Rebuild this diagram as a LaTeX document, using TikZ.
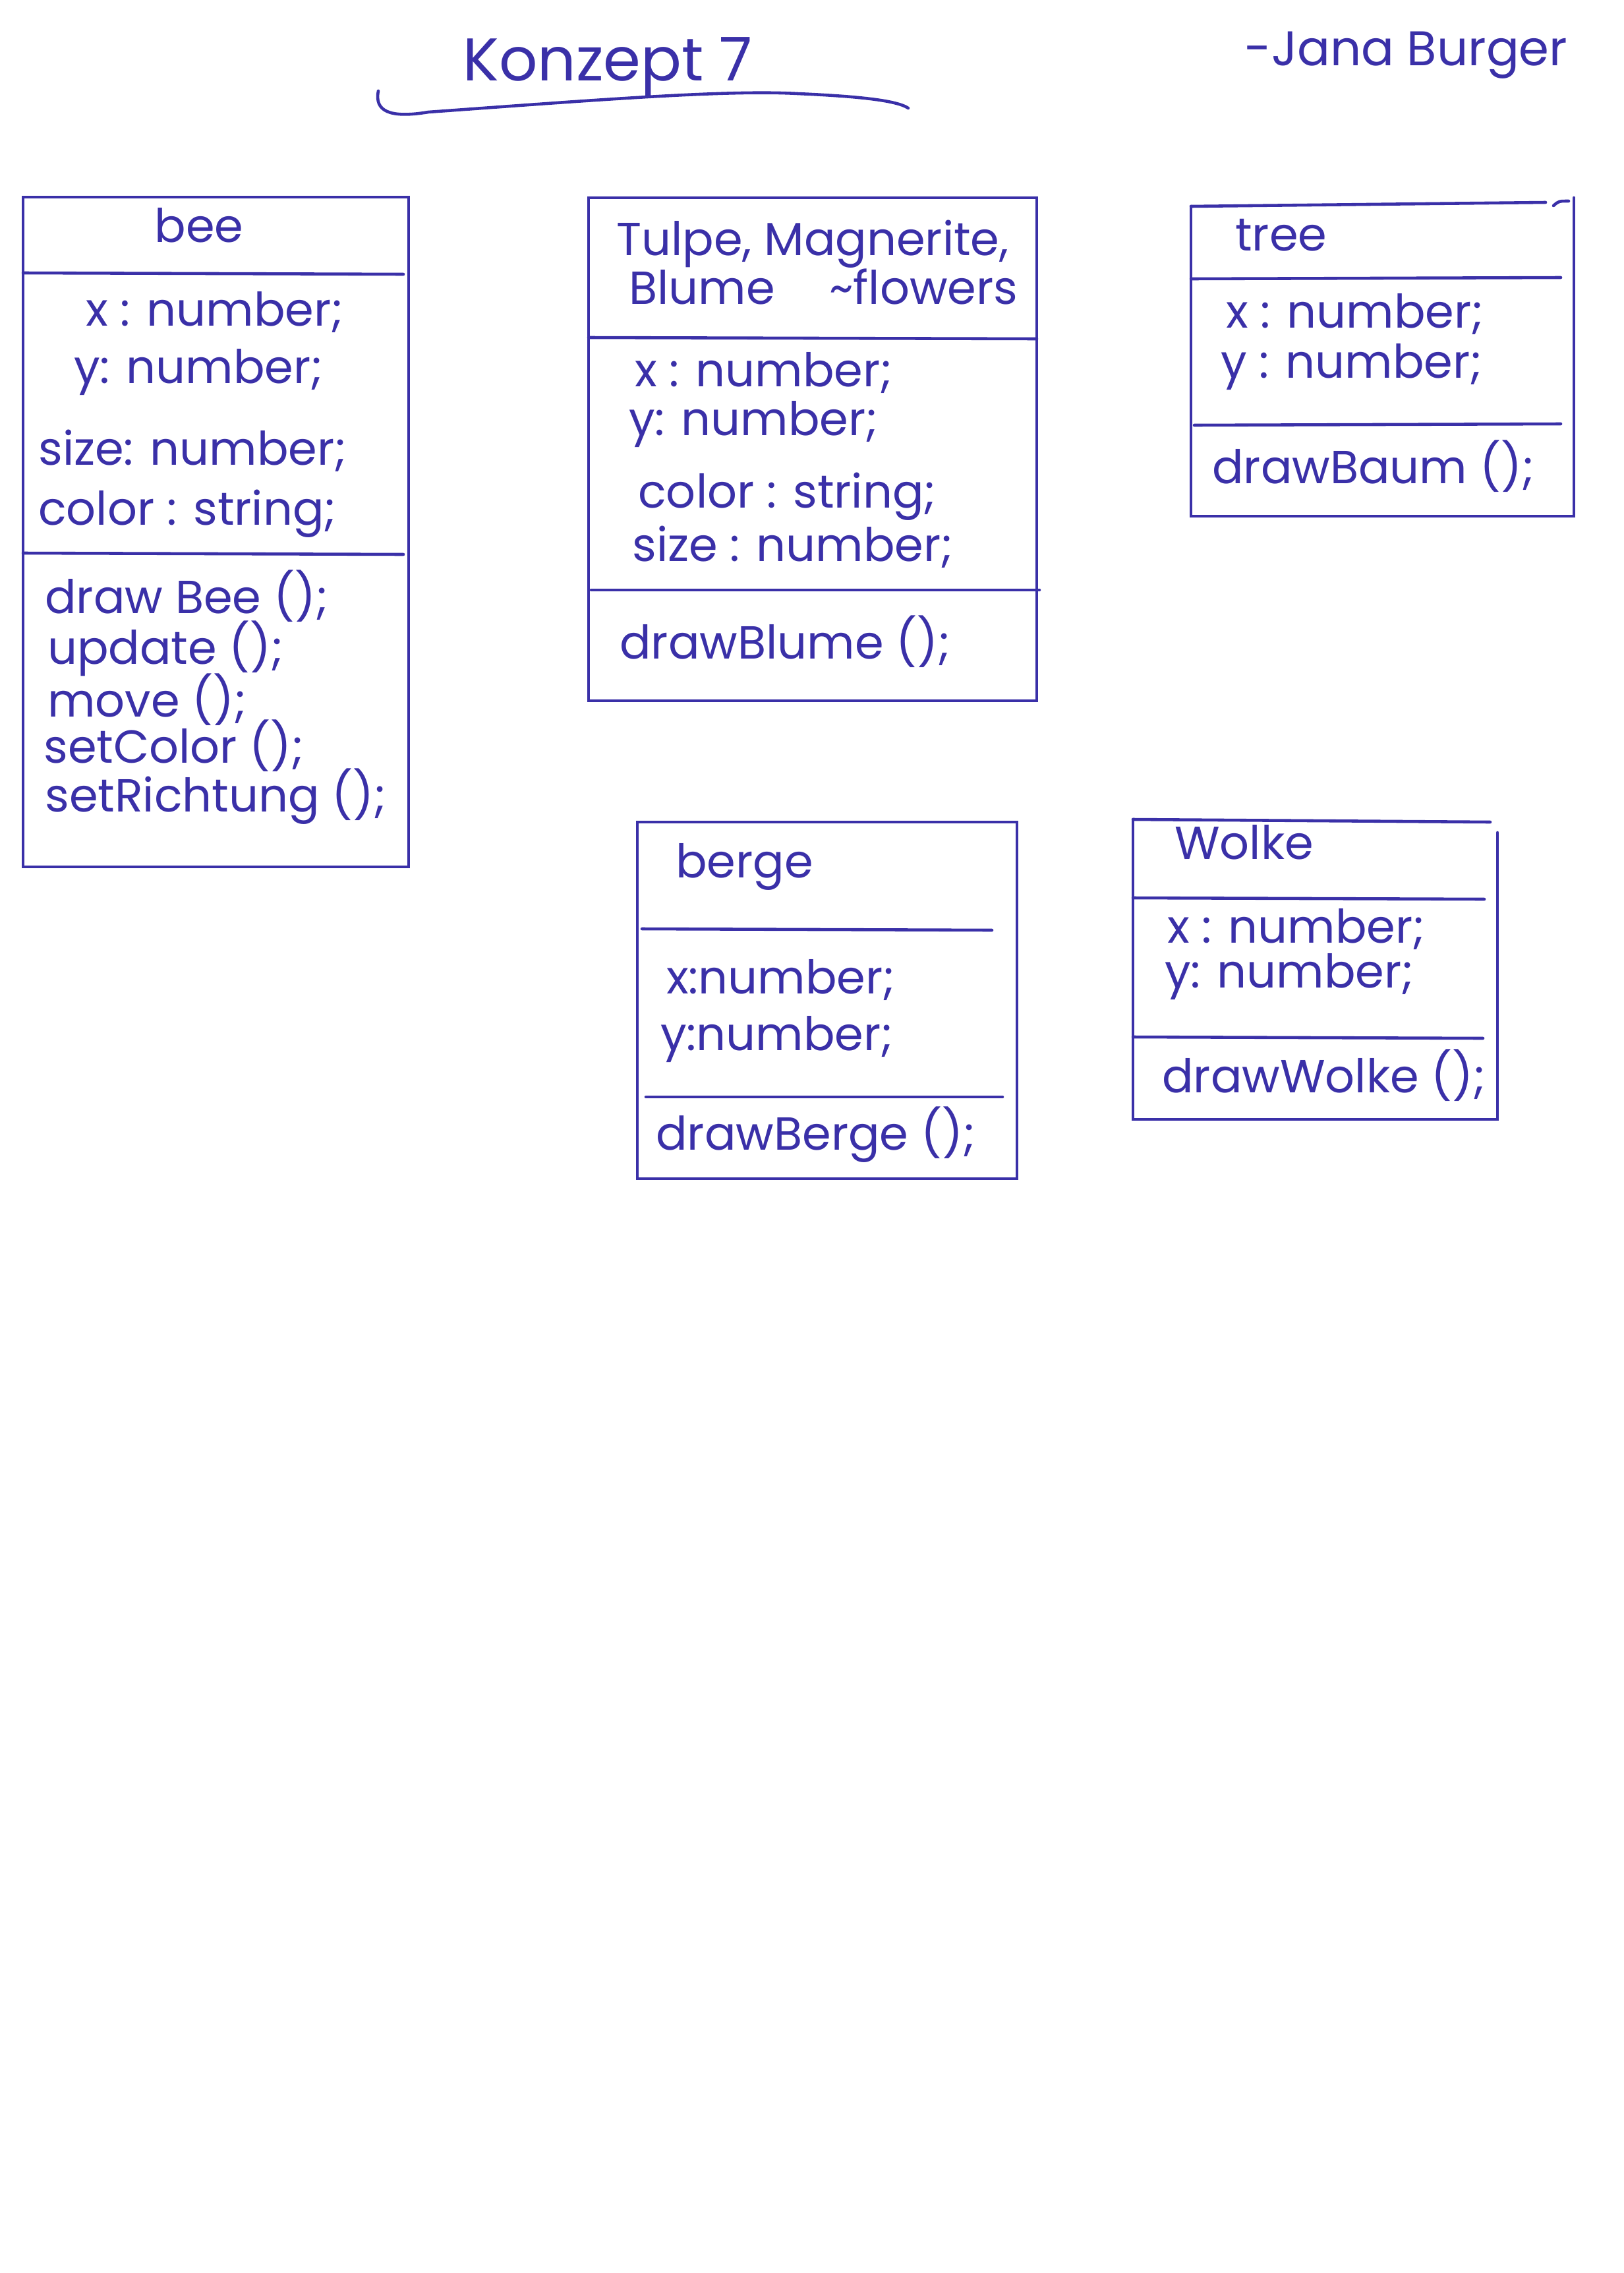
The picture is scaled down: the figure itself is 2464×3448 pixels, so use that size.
\documentclass[tikz,border=0pt]{standalone}
\usepackage{fontspec}
\setmainfont{Poppins}
\definecolor{ink}{RGB}{58,48,168}

\begin{document}
\begin{tikzpicture}[x=0.01cm, y=-0.01cm, line width=1.3pt, line cap=round,
                    classbox/.style = {draw=ink},
                    member/.style = {anchor=base west, inner sep=0pt, text=ink,
                        font=\fontsize{20}{24}\selectfont}]
        \useasboundingbox (0,0) rectangle (2464,3448);

        % heading
        \node[member, font=\fontsize{26}{30}\selectfont] (title) at (700,122) {Konzept 7};
        \node[member, font=\fontsize{21}{26}\selectfont] (author) at (1886,100) {-Jana Burger};
        \draw[classbox] (574,138) .. controls (568,168) and (590,180) .. (650,170)
            .. controls (900,152) and (1100,136) .. (1210,142)
            .. controls (1300,146) and (1360,152) .. (1378,164);

        % bee
        \draw[classbox] (35,299) rectangle (620,1315);
        \draw[classbox] (35,414) -- (612,416);
        \draw[classbox] (35,839) -- (612,841);
        \node[member, anchor=base] (bee) at (302,367) {bee};
        \node[member] (beeX) at (128,494) {x : number;};
        \node[member] (beeY) at (110,581) {y: number;};
        \node[member] (beeSize) at (56,705) {size: number;};
        \node[member] (beeColor) at (56,796) {color : string;};
        \node[member] (beeDraw) at (66,930) {draw Bee ();};
        \node[member] (beeUpdate) at (70,1007) {update ();};
        \node[member] (beeMove) at (70,1087) {move ();};
        \node[member] (beeSetColor) at (64,1157) {setColor ();};
        \node[member] (beeRichtung) at (66,1231) {setRichtung ();};

        % flowers
        \draw[classbox] (893,300) rectangle (1573,1063);
        \draw[classbox] (893,512) -- (1573,514);
        \draw[classbox] (897,895) -- (1577,895);
        \node[member] (flower) at (933,387) {Tulpe, Magnerite,};
        \node[member] (flowerB) at (952,461) {Blume};
        \node[member] (flowerC) at (1256,461) {\textasciitilde flowers};
        \node[member] (flowerX) at (961,586) {x : number;};
        \node[member] (flowerY) at (952,660) {y: number;};
        \node[member] (flowerColor) at (966,770) {color : string;};
        \node[member] (flowerSize) at (957,851) {size : number;};
        \node[member] (flowerDraw) at (938,999) {drawBlume ();};

        % tree
        \draw[classbox] (1807,313) -- (2345,307);
        \draw[classbox] (2388,300) -- (2388,783) -- (1807,783) -- (1807,313);
        \draw[classbox] (2357,312) .. controls (2365,305) .. (2380,305);
        \draw[classbox] (1807,423) -- (2368,421);
        \draw[classbox] (1812,645) -- (2368,643);
        \node[member] (tree) at (1872,380) {tree};
        \node[member] (treeX) at (1858,497) {x : number;};
        \node[member] (treeY) at (1850,573) {y : number;};
        \node[member] (treeDraw) at (1837,733) {drawBaum ();};

        % berge
        \draw[classbox] (967,1247) rectangle (1543,1788);
        \draw[classbox] (974,1409) -- (1505,1411);
        \draw[classbox] (980,1664) -- (1521,1664);
        \node[member] (berge) at (1023,1331) {berge};
        \node[member] (bergeX) at (1009,1507) {x:number;};
        \node[member] (bergeY) at (1000,1593) {y:number;};
        \node[member] (bergeDraw) at (993,1744) {drawBerge ();};

        % Wolke
        \draw[classbox] (1719,1243) -- (2261,1247);
        \draw[classbox] (2272,1263) -- (2272,1698) -- (1719,1698) -- (1719,1243);
        \draw[classbox] (1719,1362) -- (2252,1364);
        \draw[classbox] (1719,1573) -- (2250,1575);
        \node[member] (wolke) at (1780,1303) {Wolke};
        \node[member] (wolkeX) at (1769,1430) {x : number;};
        \node[member] (wolkeY) at (1765,1498) {y: number;};
        \node[member] (wolkeDraw) at (1761,1657) {drawWolke ();};
    \end{tikzpicture}
\end{document}
